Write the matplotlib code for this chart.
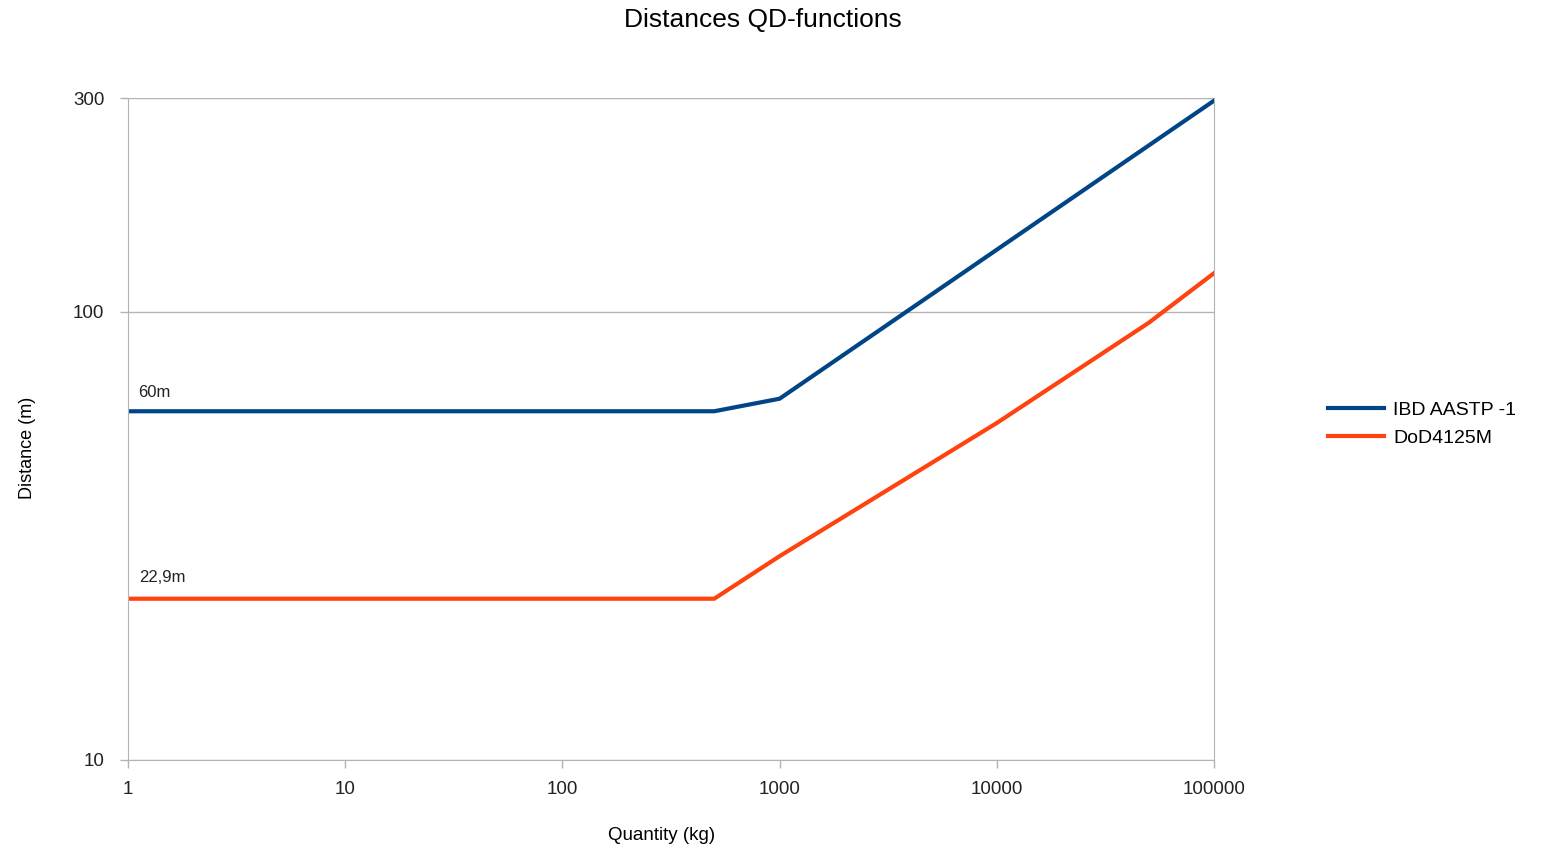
import matplotlib.pyplot as plt
from matplotlib.ticker import FixedLocator, NullLocator

# data (quantity in kg, distance in m)
ibd_qty = [1, 500, 1000, 100000]
ibd_dist = [60, 60, 64, 296]
dod_qty = [1, 500, 1000, 10000, 50000, 100000]
dod_dist = [22.9, 22.9, 28.5, 56.5, 94.5, 122]

x_ticks = [1, 10, 100, 1000, 10000, 100000]
y_ticks = [10, 100, 300]

plt.rcParams["font.family"] = ["Liberation Sans", "DejaVu Sans"]

fig = plt.figure(figsize=(15.44, 8.48), dpi=100)
ax = fig.add_axes([0.0829, 0.1038, 0.7034, 0.7806])

grid_col = "#b3b3b3"
ax.plot(ibd_qty, ibd_dist, color="#004586", linewidth=3, label="IBD AASTP -1",
        solid_joinstyle="miter")
ax.plot(dod_qty, dod_dist, color="#ff420e", linewidth=3, label="DoD4125M",
        solid_joinstyle="miter")

ax.set_xscale("log")
ax.set_yscale("log")
ax.set_xlim(1, 100000)
ax.set_ylim(10, 300)
ax.xaxis.set_major_locator(FixedLocator(x_ticks))
ax.xaxis.set_minor_locator(NullLocator())
ax.yaxis.set_major_locator(FixedLocator(y_ticks))
ax.yaxis.set_minor_locator(NullLocator())
ax.set_xticklabels([str(v) for v in x_ticks])
ax.set_yticklabels([str(v) for v in y_ticks])
ax.yaxis.grid(True, color=grid_col, linewidth=1)
ax.set_axisbelow(True)
for side in ["left", "bottom", "right", "top"]:
    ax.spines[side].set_color(grid_col)
ax.spines["top"].set_visible(False)
ax.tick_params(axis="both", color=grid_col, length=6, width=1,
               labelsize=13.5, labelcolor="#222222")
ax.tick_params(axis="x", pad=9)
ax.tick_params(axis="y", pad=11)

# label annotations
ax.annotate("60m", (1, 60), xytext=(7, 10), textcoords="offset points",
            fontsize=12, color="#222222")
ax.annotate("22,9m", (1, 22.9), xytext=(8, 12), textcoords="offset points",
            fontsize=12, color="#222222")

ax.set_xlabel("Quantity (kg)", fontsize=13.5)
ax.xaxis.set_label_coords((662 - 128) / 1086, -0.102)
ax.set_ylabel("Distance (m)", fontsize=13)
ax.yaxis.set_label_coords(-0.085, (760 - 448) / 662)
fig.suptitle("Distances QD-functions", fontsize=19, x=0.494, y=0.99)

ax.legend(loc="center left", bbox_to_anchor=(0.855, 0.5), bbox_transform=fig.transFigure,
          frameon=False, fontsize=14, handlelength=2.9, handletextpad=0.45,
          labelspacing=0.55, borderaxespad=0)

fig.savefig("out.png", dpi=100)
